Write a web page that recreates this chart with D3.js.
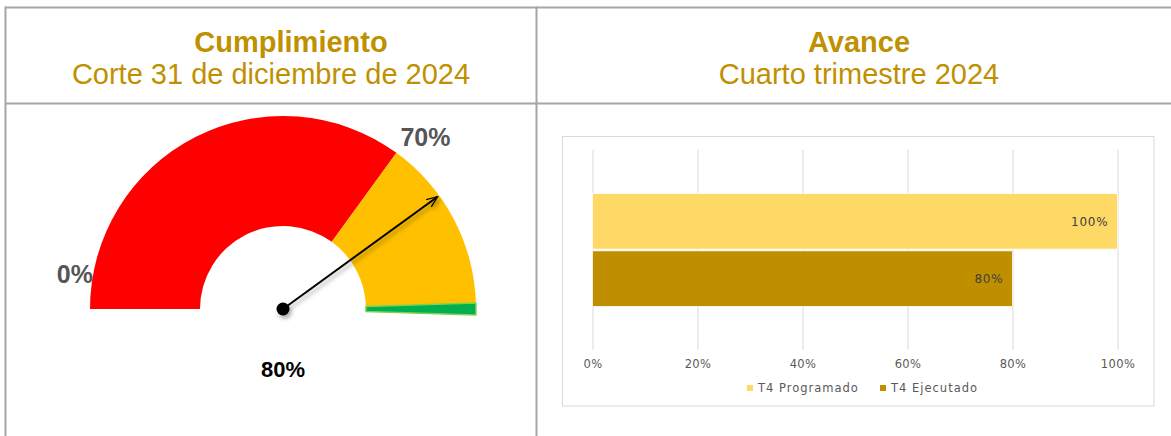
<!DOCTYPE html>
<html>
<head>
<meta charset="utf-8">
<script src="https://cdn.jsdelivr.net/npm/d3@7"></script>
<style>
    body { margin: 0; background: #fff; }
    svg { display: block; }
</style>
</head>
<body>
<div id="svg-container"></div>
<script>
const w = 1171;
const h = 436;

// header texts
const titles = ["Cumplimiento", "Avance"];
const subtitles = ["Corte 31 de diciembre de 2024", "Cuarto trimestre 2024"];

// gauge
const gaugeBands = [0, 0.7, 0.99, 1.01];
const gaugeColors = ["#ff0000", "#ffc000", "#00b050"];
const gaugeValue = 0.8;
const gaugeLabels = ["0%", "70%"];
const gaugeLabelValues = [0, 0.7];
const gaugeValueLabel = "80%";

// bar chart
const categories = ["T4 Programado", "T4 Ejecutado"];
const barValues = [1.0, 0.8];
const barColors = ["#ffd966", "#bf8f00"];
const tickValues = [0, 0.2, 0.4, 0.6, 0.8, 1.0];

window.onload = function() {

    const svg = d3.select("#svg-container")
        .append("svg")
        .attr("width", w)
        .attr("height", h);

    const defs = svg.append("defs");

    defs.append("filter")
        .attr("id", "shadow")
        .attr("x", "-20%").attr("y", "-20%")
        .attr("width", "140%").attr("height", "140%")
        .append("feDropShadow")
        .attr("dx", 2).attr("dy", 3)
        .attr("stdDeviation", 2)
        .attr("flood-color", "#000")
        .attr("flood-opacity", 0.35);

    defs.append("marker")
        .attr("id", "arrow")
        .attr("viewBox", "0 0 12 10")
        .attr("refX", 11).attr("refY", 5)
        .attr("markerWidth", 6).attr("markerHeight", 5)
        .attr("markerUnits", "strokeWidth")
        .attr("orient", "auto")
        .append("path")
        .attr("d", "M0,0.5 L11,5 L0,9.5")
        .attr("fill", "none")
        .attr("stroke", "#000")
        .attr("stroke-width", 1.3);

    // ---- table frame ----
    const lineColor = "#a6a6a6";
    const colX = [5.5, 536.5];
    const colCenter = [291, 859];

    svg.append("line").attr("x1", 5).attr("x2", w).attr("y1", 7.5).attr("y2", 7.5)
        .attr("stroke", lineColor).attr("stroke-width", 2);
    svg.append("line").attr("x1", 5).attr("x2", w).attr("y1", 103.5).attr("y2", 103.5)
        .attr("stroke", lineColor).attr("stroke-width", 2);
    svg.selectAll(".col-line")
        .data(colX)
        .enter()
        .append("line")
        .attr("class", "col-line")
        .attr("x1", d => d).attr("x2", d => d)
        .attr("y1", 6.5).attr("y2", h)
        .attr("stroke", lineColor).attr("stroke-width", 2);

    svg.selectAll(".title")
        .data(titles)
        .enter()
        .append("text")
        .attr("class", "title")
        .attr("x", (d, i) => colCenter[i])
        .attr("y", 52)
        .attr("text-anchor", "middle")
        .style("font-family", "'Liberation Sans', Arial, sans-serif")
        .style("font-size", "29px")
        .style("font-weight", "bold")
        .style("fill", "#bf9000")
        .text(d => d);

    svg.selectAll(".subtitle")
        .data(subtitles)
        .enter()
        .append("text")
        .attr("class", "subtitle")
        .attr("x", (d, i) => i == 0 ? 271 : colCenter[i])
        .attr("y", 84)
        .attr("text-anchor", "middle")
        .style("font-family", "'Liberation Sans', Arial, sans-serif")
        .style("font-size", "29px")
        .style("fill", "#bf9000")
        .text(d => d);

    // ---- gauge ----
    const cx = 283, cy = 309;
    const rOuter = 193, rInner = 83;
    const angle = d3.scaleLinear().domain([0, 1]).range([-Math.PI / 2, Math.PI / 2]);

    const gauge = svg.append("g").attr("transform", `translate(${cx},${cy})`);

    const arc = d3.arc().innerRadius(rInner).outerRadius(rOuter);

    gauge.selectAll("path.band")
        .data(gaugeColors)
        .enter()
        .append("path")
        .attr("class", "band")
        .attr("d", (d, i) => arc({startAngle: angle(gaugeBands[i]), endAngle: angle(gaugeBands[i + 1])}))
        .attr("fill", d => d)
        .attr("stroke", (d, i) => i == 2 ? "#7fd14f" : "none")
        .attr("stroke-width", 1.5);

    const polar = (v, r) => [Math.sin(angle(v)) * r, -Math.cos(angle(v)) * r];

    const labelOffsets = [[3, -26, "end"], [4, -7, "start"]];
    gauge.selectAll(".gauge-label")
        .data(gaugeLabels)
        .enter()
        .append("text")
        .attr("class", "gauge-label")
        .attr("x", (d, i) => polar(gaugeLabelValues[i], rOuter)[0] + labelOffsets[i][0])
        .attr("y", (d, i) => polar(gaugeLabelValues[i], rOuter)[1] + labelOffsets[i][1])
        .attr("text-anchor", (d, i) => labelOffsets[i][2])
        .style("font-family", "'Liberation Sans', Arial, sans-serif")
        .style("font-size", "25px")
        .style("font-weight", "bold")
        .style("fill", "#555555")
        .text(d => d);

    const tip = polar(gaugeValue, 191);
    const needle = gauge.append("g").attr("filter", "url(#shadow)");
    needle.append("line")
        .attr("x1", 0).attr("y1", 0)
        .attr("x2", tip[0]).attr("y2", tip[1])
        .attr("stroke", "#000")
        .attr("stroke-width", 2)
        .attr("marker-end", "url(#arrow)");
    needle.append("circle")
        .attr("r", 6.5)
        .attr("fill", "#000");

    gauge.append("text")
        .attr("x", 0)
        .attr("y", 68)
        .attr("text-anchor", "middle")
        .style("font-family", "'Liberation Sans', Arial, sans-serif")
        .style("font-size", "22px")
        .style("font-weight", "bold")
        .style("fill", "#000")
        .text(gaugeValueLabel);

    // ---- bar chart ----
    const chart = svg.append("g");
    const font = "'DejaVu Sans', Verdana, sans-serif";

    chart.append("rect")
        .attr("x", 562.5).attr("y", 136.5)
        .attr("width", 591.5).attr("height", 269.5)
        .attr("fill", "#fff")
        .attr("stroke", "#d9d9d9");

    const x = d3.scaleLinear().domain([0, 1]).range([592.5, 1117.5]);
    const y = d3.scaleBand().domain(categories).range([150, 350]).paddingInner(0.03).paddingOuter(0.76);

    const xAxis = d3.axisBottom(x)
        .tickValues(tickValues)
        .tickSize(-200)
        .tickPadding(8)
        .tickFormat(d3.format(".0%"));

    const ax = chart.append("g")
        .attr("transform", "translate(0,350)")
        .call(xAxis);
    ax.select(".domain").remove();
    ax.selectAll(".tick line").attr("stroke", "#d9d9d9");
    ax.selectAll(".tick text")
        .attr("y", 14)
        .attr("dy", "0.35em")
        .style("font-family", font)
        .style("font-size", "11.5px")
        .style("letter-spacing", "0.4px")
        .style("fill", "#595959");

    chart.selectAll(".bar")
        .data(categories)
        .enter()
        .append("rect")
        .attr("class", "bar")
        .attr("x", x(0))
        .attr("y", d => y(d))
        .attr("width", (d, i) => x(barValues[i]) - x(0))
        .attr("height", y.bandwidth())
        .attr("fill", (d, i) => barColors[i])
        .attr("stroke", "#fff")
        .attr("stroke-width", 0.75);

    chart.selectAll(".bar-label")
        .data(categories)
        .enter()
        .append("text")
        .attr("class", "bar-label")
        .attr("x", (d, i) => x(barValues[i]) - 9)
        .attr("y", d => y(d) + y.bandwidth() / 2)
        .attr("dy", "0.35em")
        .attr("text-anchor", "end")
        .style("font-family", font)
        .style("font-size", "12px")
        .style("letter-spacing", "0.8px")
        .style("fill", "#404040")
        .text((d, i) => d3.format(".0%")(barValues[i]));

    // legend
    const legendX = [747, 880];
    const legend = chart.selectAll(".legend-item")
        .data(categories)
        .enter()
        .append("g")
        .attr("class", "legend-item")
        .attr("transform", (d, i) => `translate(${legendX[i]},388)`);

    legend.append("rect")
        .attr("x", 0).attr("y", -3)
        .attr("width", 6).attr("height", 6)
        .attr("fill", (d, i) => barColors[i]);

    legend.append("text")
        .attr("x", 11)
        .attr("y", 0)
        .attr("dy", "0.35em")
        .style("font-family", font)
        .style("font-size", "11.5px")
        .style("letter-spacing", "1px")
        .style("fill", "#595959")
        .text(d => d);
};
</script>
</body>
</html>
